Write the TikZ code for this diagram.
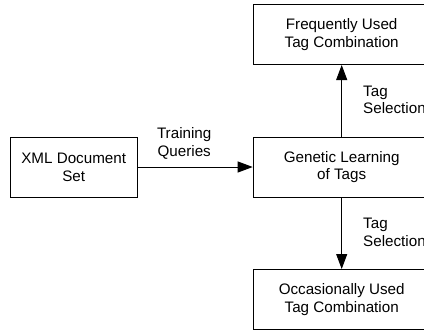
\documentclass[tikz,border=0pt]{standalone}
\usepackage{fontspec}
\setmainfont{Liberation Sans}
\usetikzlibrary{arrows.meta}

\tikzset{
	box/.style={draw, line width=1pt, minimum height=60pt, inner sep=0pt, align=center},
	flow/.style={line width=1pt, -{Triangle[length=15pt,width=11pt]}},
	lbl/.style={align=left, inner sep=0pt}
}

\begin{document}
\begin{tikzpicture}[x=1pt,y=-1pt,font=\fontsize{15.2}{17.7}\selectfont]

\def\COLX{341.7}
	\useasboundingbox (0,0) rectangle (424,333);
	\clip (0,0) rectangle (424,333);
	% boxes
	\node[box, minimum width=177pt] (frequent) at (\COLX,34.5) {Frequently Used\\Tag Combination};
	\node[box, minimum width=177pt] (genetic) at (\COLX,167) {Genetic Learning\\of Tags};
	\node[box, minimum width=177pt] (occasional) at (\COLX,299.5) {Occasionally Used\\Tag Combination};
	\node[box, minimum width=127pt] (xmlset) at (73.7,167) {XML Document\\Set};
	% arrows
	\draw[flow] (xmlset) -- node[lbl, align=center, above=7pt, xshift=-11pt] {Training\\Queries} (genetic);
	\draw[flow] (genetic) -- node[lbl, right=21pt, yshift=1pt] {Tag\\Selection} (frequent);
	\draw[flow] (genetic) -- node[lbl, right=21pt, yshift=1pt] {Tag\\Selection} (occasional);

\end{tikzpicture}
\end{document}
